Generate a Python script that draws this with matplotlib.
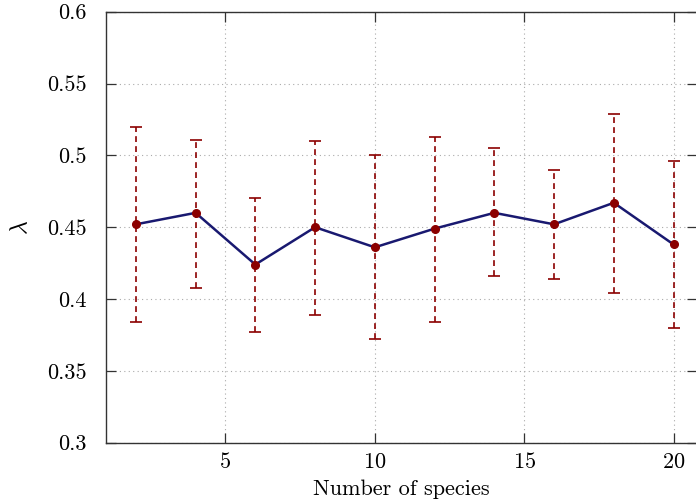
import matplotlib
matplotlib.use("Agg")
import matplotlib.pyplot as plt
import numpy as np

# number of species vs lambda, with spread shown as error bars
species = [2, 4, 6, 8, 10, 12, 14, 16, 18, 20]
lam_mean = [0.452, 0.460, 0.424, 0.450, 0.436, 0.449, 0.460, 0.452, 0.467, 0.438]
lam_upper = [0.520, 0.511, 0.470, 0.510, 0.500, 0.513, 0.505, 0.490, 0.529, 0.496]
lam_lower = [0.384, 0.408, 0.377, 0.389, 0.372, 0.384, 0.416, 0.414, 0.404, 0.380]

y_ticks = [0.3, 0.35, 0.4, 0.45, 0.5, 0.55, 0.6]
y_tick_labels = ["0.3", "0.35", "0.4", "0.45", "0.5", "0.55", "0.6"]
x_ticks = [5, 10, 15, 20]

plt.rcParams.update({
    "font.family": "serif",
    "font.serif": ["cmr10", "DejaVu Serif"],
    "mathtext.fontset": "cm",
    "axes.formatter.use_mathtext": True,
    "font.size": 16,
})

fig = plt.figure(figsize=(6.96, 5.01), dpi=100)
W, H = 696, 501
left, right, bottom, top = 106, 697, 442.7, 11.7
ax = fig.add_axes([left / W, 1 - bottom / H, (right - left) / W, (bottom - top) / H])

mean = np.array(lam_mean)
yerr = np.vstack([mean - np.array(lam_lower), np.array(lam_upper) - mean])

eb = ax.errorbar(species, lam_mean, yerr=yerr, fmt="none", ecolor="#8b0000",
                 elinewidth=1.2, capsize=4, capthick=1.2, zorder=3)
for col in eb[2]:
    col.set_linestyle((0, (3.5, 2.5)))
ax.plot(species, lam_mean, color="#191970", linewidth=1.8, zorder=4)
ax.plot(species, lam_mean, "o", color="#8b0000", markersize=5.5, zorder=5)

ax.set_xlim(1, 1 + (right - left) / 29.87)
ax.set_ylim(0.3, 0.6)
ax.set_xticks(x_ticks)
ax.set_yticks(y_ticks)
ax.set_yticklabels(y_tick_labels)
ax.tick_params(direction="in", length=7.5, width=0.9, color="#333333",
               top=True, right=True, labelsize=16)
ax.tick_params(axis="y", pad=14)
ax.tick_params(axis="x", pad=7)
ax.grid(True, linestyle=(0, (1, 3)), color="#aaaaaa", linewidth=0.8)
for s in ax.spines.values():
    s.set_color("#333333")
    s.set_linewidth(1.0)

ax.set_xlabel("Number of species", fontsize=16, labelpad=5)
ax.set_ylabel(r"$\lambda$", fontsize=17, labelpad=11)

fig.savefig("out.png", dpi=100)
